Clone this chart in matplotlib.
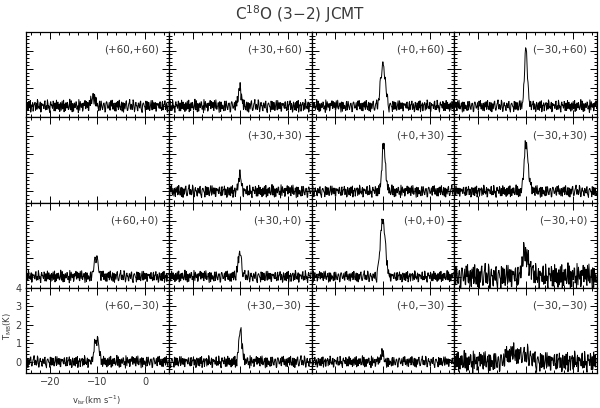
import numpy as np
from matplotlib import pyplot as plt
from matplotlib.ticker import MultipleLocator

# velocity axis: channels of 0.1 km/s starting at -25 km/s
v_start = -25.0
dv = 0.1
n_chan = 300

# baseline scatter patterns (tenths of one rms), shared by all panels
noise_a = [8, -12, 3, 15, -6, -19, 4, 11, -2, 7, -14, 9, 21, -5, -9, 13, -17, 2, 6, -8,
           17, -3, -11, 10, 1, -20, 14, 5, -7, 12, -4, -15, 19, 0, -10, 6, 9, -13, 16, -2,
           -18, 7, 11, -6, 3, -9, 22, -12, 4, 8, -16, 10, -1, 13, -7, -21, 5, 15, -4, 9,
           -11, 2, 18, -8, -3, 12, -14, 6, 20, -10, 1, -5, 14, -17, 7, 3, -9, 11, -13, 16,
           -6, -2, 10, -19, 8, 13, -7, 4, -12, 17, 0, -8, 9, -15, 5, 12, -3, -11, 19, -4,
           6, -16, 11, 2, -9, 14, -5, -13, 8, 21, -10, 3, -6, 15, -18, 7, 1, -12, 10, -2,
           13, -8, -20, 9, 4, -3, 16, -11, 5, 12, -14, 7, -1, 18, -9, -5, 11, -16, 3, 8,
           -7, 14, -4, 10, -12, 6, 17, -10, 2, -15]
noise_b = [-5, 11, -14, 3, 18, -9, 2, -16, 7, 12, -3, -10, 15, -1, 6, -19, 9, 4, -7, 14,
           -12, 1, 20, -6, -13, 8, 3, -4, 16, -15, 10, -2, -8, 13, 5, -17, 11, 0, -9, 19,
           -3, -14, 7, 12, -11, 4, -6, 17, -18, 2, 9, -5, 14, -10, 1, 21, -13, 6, -2, -16,
           10, 3, -8, 15, -4, -12, 18, -7, 5, -1, 11, -20, 8, 13, -9, 2, -15, 16, -3, 6,
           -11, 9, 0, -17, 14, 4, -6, 12, -13, 7, 19, -10, -2, 10, -16, 5, 15, -8, 1, -12,
           13, -5, -19, 8, 3, 17, -14, -1, 11, -7, 6, -11, 20, -4, -9, 12, 2, -15, 9, -6,
           16, -13, 4, 10, -2, -18, 7, 14, -10, 1, -5, 18, -12, 3, 11, -8, -16, 9, 5, -3,
           12, -7, -14, 15, -1, 6, -11, 8, -19, 13]

# panels in grid order, row by row (None = no spectrum)
labels = ["(+60,+60)", "(+30,+60)", "(+0,+60)", "(\u221230,+60)",
          None, "(+30,+30)", "(+0,+30)", "(\u221230,+30)",
          "(+60,+0)", "(+30,+0)", "(+0,+0)", "(\u221230,+0)",
          "(+60,\u221230)", "(+30,\u221230)", "(+0,\u221230)", "(\u221230,\u221230)"]

# baseline rms (K) per panel
rms = [0.17, 0.17, 0.16, 0.16,
       0, 0.17, 0.16, 0.16,
       0.16, 0.16, 0.15, 0.34,
       0.16, 0.16, 0.15, 0.28]

# where each panel starts in the scatter pattern
noise_shift = [0, 37, 81, 126, 0, 175, 223, 262, 19, 58, 107, 153, 201, 240, 285, 71]

# first channel of the emission line and its temperatures (K)
line_start = [134, 144, 140, 144,
              0, 144, 144, 142,
              140, 142, 138, 140,
              140, 144, 144, 104]
line_temp = [
    [0.1, 0.15, 0.2, 0.25, 0.3, 0.35, 0.45, 0.5, 0.5, 0.45, 0.4, 0.35, 0.3, 0.25, 0.2,
     0.15, 0.1],
    [0.2, 0.35, 0.5, 0.75, 1.0, 1.1, 1.1, 0.85, 0.6, 0.45, 0.3, 0.2, 0.1],
    [0.2, 0.35, 0.5, 0.75, 1.0, 1.3, 1.6, 1.8, 2.0, 2.1, 2.2, 2.2, 2.1, 1.9, 1.7, 1.4,
     1.1, 0.85, 0.6, 0.45, 0.3, 0.2, 0.1],
    [0.3, 0.6, 1.0, 1.6, 2.2, 2.7, 3.1, 3.0, 2.8, 2.2, 1.6, 1.1, 0.7, 0.5, 0.3, 0.2, 0.1],
    [],
    [0.2, 0.3, 0.4, 0.55, 0.7, 0.8, 0.9, 0.8, 0.6, 0.45, 0.3, 0.2, 0.1],
    [0.2, 0.4, 0.6, 1.0, 1.4, 1.9, 2.4, 2.5, 2.6, 2.3, 2.0, 1.6, 1.2, 0.9, 0.6, 0.45,
     0.3, 0.2, 0.1],
    [0.2, 0.35, 0.5, 0.8, 1.2, 1.7, 2.2, 2.4, 2.6, 2.5, 2.4, 2.2, 2.0, 1.6, 1.3, 1.0,
     0.7, 0.55, 0.4, 0.3, 0.2],
    [0.2, 0.35, 0.5, 0.65, 0.8, 0.9, 1.0, 1.05, 1.1, 1.0, 0.8, 0.65, 0.5, 0.4, 0.3, 0.2,
     0.1],
    [0.2, 0.35, 0.5, 0.7, 0.9, 1.05, 1.2, 1.25, 1.3, 1.1, 0.9, 0.7, 0.5, 0.35, 0.2, 0.15,
     0.1],
    [0.2, 0.35, 0.5, 0.75, 1.0, 1.35, 1.7, 2.05, 2.4, 2.65, 2.9, 2.95, 3.0, 2.9, 2.8,
     2.55, 2.3, 1.9, 1.5, 1.15, 0.8, 0.6, 0.4, 0.3, 0.2, 0.15, 0.1],
    [0.3, 0.55, 0.8, 1.0, 1.2, 1.3, 1.4, 1.35, 1.3, 1.25, 1.2, 1.1, 1.0, 0.95, 0.9, 0.85,
     0.8, 0.7, 0.6, 0.55, 0.5, 0.45, 0.4, 0.35, 0.3, 0.25, 0.2, 0.15, 0.1],
    [0.2, 0.35, 0.5, 0.7, 0.9, 1.0, 1.1, 1.15, 1.2, 1.2, 1.25, 1.1, 1.0, 0.8, 0.6, 0.45,
     0.3, 0.2, 0.1],
    [0.2, 0.4, 0.6, 0.95, 1.3, 1.6, 1.8, 1.7, 1.5, 1.2, 0.9, 0.7, 0.5, 0.4, 0.3, 0.2, 0.1],
    [0.1, 0.2, 0.3, 0.4, 0.45, 0.45, 0.4, 0.3, 0.2, 0.15, 0.1],
    [0.1, 0.1, 0.15, 0.2, 0.2, 0.25, 0.3, 0.3, 0.3, 0.35, 0.4, 0.4, 0.4, 0.4, 0.45, 0.5,
     0.45, 0.4, 0.4, 0.45, 0.5, 0.5, 0.45, 0.4, 0.4, 0.35, 0.3, 0.35, 0.4, 0.4, 0.45, 0.5,
     0.45, 0.4, 0.35, 0.3, 0.3, 0.3, 0.35, 0.4, 0.35, 0.3, 0.25, 0.2, 0.25, 0.3, 0.35,
     0.3, 0.3, 0.35, 0.4, 0.35, 0.3, 0.3, 0.25, 0.2, 0.25, 0.3, 0.25, 0.2, 0.2, 0.15, 0.2,
     0.2, 0.15, 0.1, 0.1],
]

text_col = '#3a3a3a'
v = v_start + dv * np.arange(n_chan)
base = np.empty(n_chan)
base[0::2] = noise_a
base[1::2] = noise_b
base = base / 10.0

fig = plt.figure(figsize=(6, 4.08), dpi=100)
W, H = 600.0, 408.0
x0, y0 = 26.0, 32.0
pw, ph = 142.75, 85.25

for k in range(16):
    r, c = divmod(k, 4)
    left = (x0 + c * pw) / W
    bottom = 1 - (y0 + (r + 1) * ph) / H
    ax = fig.add_axes([left, bottom, pw / W, ph / H])
    ax.set_xlim(-25, 5)
    ax.set_ylim(-0.6, 4)
    ax.xaxis.set_major_locator(MultipleLocator(10))
    ax.xaxis.set_minor_locator(MultipleLocator(2))
    ax.yaxis.set_major_locator(MultipleLocator(1))
    ax.yaxis.set_minor_locator(MultipleLocator(0.2))
    ax.tick_params(which='both', direction='in', top=True, right=True,
                   width=0.7, colors='black', labelcolor=text_col, labelsize=7)
    ax.tick_params(which='major', length=5)
    ax.tick_params(which='minor', length=2.5)
    for s in ax.spines.values():
        s.set_linewidth(0.9)
    if k != 12:
        ax.tick_params(labelbottom=False, labelleft=False)
    else:
        ax.tick_params(pad=3)
    if labels[k] is None:
        continue
    t = rms[k] * np.roll(base, -noise_shift[k])
    st = line_start[k]
    t[st:st + len(line_temp[k])] += np.array(line_temp[k])
    ax.plot(v, t, color='black', lw=0.7)
    ax.text(0.93, 0.79, labels[k], transform=ax.transAxes, ha='right', va='center',
            fontsize=7.5, color=text_col)

fig.text(0.5, 1 - 14 / H, 'C$^{18}$O (3\u22122) JCMT', ha='center', va='center',
         fontsize=11, color=text_col)
fig.text(8 / W, 1 - 326 / H, 'T$_{\\rm MB}$(K)', rotation=90, ha='center', va='center',
         fontsize=6, color=text_col)
fig.text(97 / W, 1 - 400 / H, 'v$_{\\rm lsr}$(km s$^{-1}$)', ha='center', va='center',
         fontsize=6, color=text_col)

fig.savefig('out.png', dpi=100)
